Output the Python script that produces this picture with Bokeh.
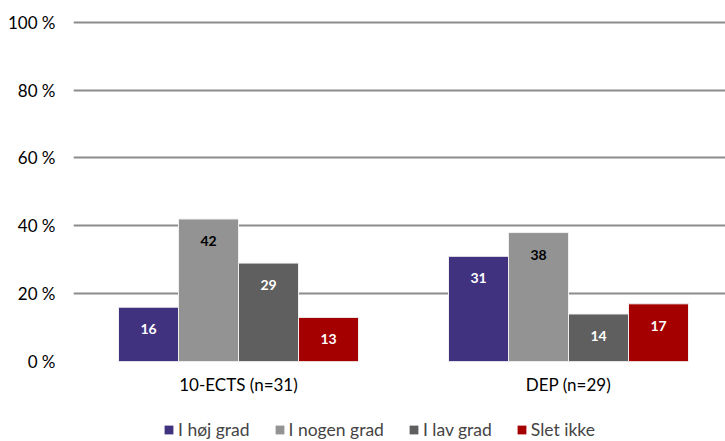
from bokeh.plotting import figure
from bokeh.models import ColumnDataSource, Range1d, FixedTicker, Legend, LegendItem
from bokeh.layouts import column
from bokeh.core.properties import value
from bokeh.embed import file_html
from bokeh.resources import INLINE

groups = ["10-ECTS (n=31)", "DEP (n=29)"]
series = ["I høj grad", "I nogen grad", "I lav grad", "Slet ikke"]
values = {
    "I høj grad": [16, 31],
    "I nogen grad": [42, 38],
    "I lav grad": [29, 14],
    "Slet ikke": [13, 17],
}
colors = ["#413280", "#939393", "#5f5f5f", "#a50000"]
label_colors = ["white", "black", "white", "white"]
yticks = [0, 20, 40, 60, 80, 100]

FONT = "Lato"
group_pos = [0.5, 1.5]
bar_w = 60 / 330
offsets = [-1.5 * bar_w, -0.5 * bar_w, 0.5 * bar_w, 1.5 * bar_w]

p = figure(width=725, height=401, output_backend="svg", toolbar_location=None,
           x_range=Range1d(0, 652 / 330), y_range=Range1d(0, 100.5),
           min_border_left=73, min_border_right=0, min_border_top=20, min_border_bottom=40)
p.outline_line_color = None

for i, s in enumerate(series):
    xs = [g + offsets[i] for g in group_pos]
    src = ColumnDataSource(dict(x=xs, top=values[s], lab=[str(v) for v in values[s]]))
    p.vbar(x="x", top="top", width=bar_w, bottom=0, source=src,
           fill_color=colors[i], line_color="#f0f0f0", line_width=1)
    p.text(x="x", y="top", text="lab", source=src, y_offset=22,
           text_align="center", text_baseline="middle", text_font=value(FONT),
           text_font_style="bold", text_font_size="14px", text_color=label_colors[i])

p.yaxis.ticker = FixedTicker(ticks=yticks)
p.yaxis.major_label_overrides = {t: f"{t} %" for t in yticks}
p.yaxis.axis_line_color = None
p.yaxis.major_tick_line_color = None
p.yaxis.minor_tick_line_color = None
p.yaxis.major_tick_out = 0
p.yaxis.minor_tick_out = 0
p.yaxis.major_label_standoff = 18
p.yaxis.major_label_text_font = FONT
p.yaxis.major_label_text_font_size = "17px"
p.yaxis.major_label_text_color = "#000000"

p.xaxis.ticker = FixedTicker(ticks=group_pos)
p.xaxis.major_label_overrides = {group_pos[i]: g for i, g in enumerate(groups)}
p.xaxis.axis_line_color = None
p.xaxis.major_tick_line_color = None
p.xaxis.minor_tick_line_color = None
p.xaxis.major_tick_out = 0
p.xaxis.minor_tick_out = 0
p.xaxis.major_label_standoff = 12
p.xaxis.major_label_text_font = FONT
p.xaxis.major_label_text_font_size = "17px"
p.xaxis.major_label_text_color = "#000000"

p.xgrid.grid_line_color = None
p.ygrid.ticker = FixedTicker(ticks=yticks)
p.ygrid.grid_line_color = "#8c8c8c"
p.ygrid.grid_line_width = 2

# legend strip below the chart (its frame is aligned with the chart's frame)
lg = figure(width=725, height=40, output_backend="svg", toolbar_location=None,
            x_range=Range1d(0, 1), y_range=Range1d(0, 1),
            x_axis_location=None, y_axis_location=None,
            min_border_left=73, min_border_right=0, min_border_top=0, min_border_bottom=0)
lg.outline_line_color = None
lg.grid.visible = False
items = []
for i, s in enumerate(series):
    # zero-height proxy renderer, only used for the legend swatch
    r = lg.vbar(x=[0.5], top=[0], bottom=[0], width=0.0, fill_color=colors[i],
                line_color=None)
    items.append(LegendItem(label=s, renderers=[r]))

legend = Legend(items=items, orientation="horizontal", location=(90, 1),
                label_text_font=FONT, label_text_font_size="17.5px",
                glyph_width=11, glyph_height=11, label_standoff=4, spacing=24,
                border_line_color=None, background_fill_alpha=0, padding=0, margin=0)
lg.add_layout(legend, "center")

layout = column(p, lg, spacing=0)
open("out.html", "w").write(file_html(layout, INLINE))
